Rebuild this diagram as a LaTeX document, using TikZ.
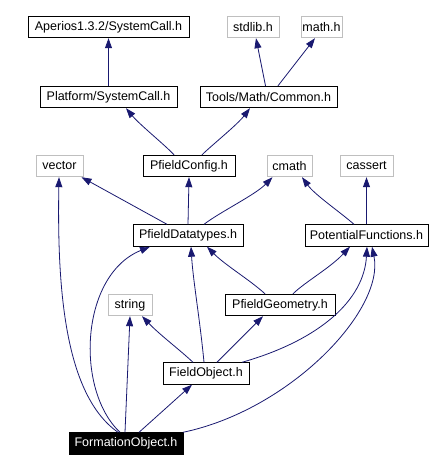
\documentclass[tikz,border=0pt]{standalone}
\usepackage{fontspec}
\setmainfont{Liberation Sans}
\usetikzlibrary{arrows.meta}
\definecolor{edgeblue}{HTML}{191970}
\definecolor{boxgray}{HTML}{BFBFBF}
\begin{document}
\begin{tikzpicture}[x=1pt,y=-1pt,
  hdr/.style={draw=black, line width=0.9pt, fill=white, inner sep=0pt, minimum height=21.5pt, font=\fontsize{12.5}{15}\selectfont, text=black},
  ext/.style={hdr, draw=boxgray},
  cur/.style={hdr, fill=black, text=white},
  dep/.style={draw=edgeblue, line width=0.8pt, -{Triangle[length=10pt,width=7pt]}}]
\useasboundingbox (0,0) rectangle (441,471);
% row 1
\node[hdr, minimum width=161pt] (aper) at (108.5,27) {Aperios1.3.2/SystemCall.h};
\node[ext, minimum width=52pt] (stdlib) at (253,27) {stdlib.h};
\node[ext, minimum width=41pt] (math) at (321.5,27) {math.h};
% row 2
\node[hdr, minimum width=137pt] (plat) at (108.5,97) {Platform/SystemCall.h};
\node[hdr, minimum width=137pt] (tools) at (268.5,97) {Tools/Math/Common.h};
% row 3
\node[ext, minimum width=47pt] (vector) at (59.5,166) {vector};
\node[hdr, minimum width=92pt] (pc) at (189,166) {PfieldConfig.h};
\node[ext, minimum width=45pt] (cmath) at (289.5,166) {cmath};
\node[ext, minimum width=53pt] (cassert) at (366.5,166) {cassert};
% row 4
\node[hdr, minimum width=110pt] (pd) at (188,235.5) {PfieldDatatypes.h};
\node[hdr, minimum width=123pt] (pf) at (366.5,235.5) {PotentialFunctions.h};
% row 5
\node[ext, minimum width=44pt] (string) at (130,305) {string};
\node[hdr, minimum width=110pt] (pg) at (280,305) {PfieldGeometry.h};
% row 6
\node[hdr, minimum width=86pt] (fo) at (206,373.5) {FieldObject.h};
% row 7
\node[cur, minimum width=114pt] (form) at (126,443.5) {FormationObject.h};
% edges
\draw[dep] (plat.north) -- (aper.south);
\draw[dep] ([xshift=-3pt]tools.north) -- ([xshift=3pt]stdlib.south);
\draw[dep] ([xshift=9.5pt]tools.north) -- ([xshift=-6.5pt]math.south);
\draw[dep] ([xshift=-15pt]pc.north) .. controls (165,145) and (140,125) .. ([xshift=17.5pt]plat.south);
\draw[dep] ([xshift=13pt]pc.north) .. controls (212,145) and (237,125) .. ([xshift=-18.5pt]tools.south);
\draw[dep] ([xshift=-21pt]pd.north) -- ([xshift=22pt]vector.south);
\draw[dep] (pd.north) -- (pc.south);
\draw[dep] ([xshift=16pt]pd.north) .. controls (220,212) and (255,195) .. ([xshift=-17pt]cmath.south);
\draw[dep] ([xshift=-12.5pt]pf.north) .. controls (340,212) and (315,195) .. ([xshift=12.5pt]cmath.south);
\draw[dep] (pf.north) -- (cassert.south);
\draw[dep] ([xshift=-15pt]pg.north) .. controls (250,280) and (225,265) .. ([xshift=19pt]pd.south);
\draw[dep] ([xshift=13pt]pg.north) .. controls (305,282) and (330,268) .. ([xshift=-16.5pt]pf.south);
\draw[dep] ([xshift=-13pt]fo.north) .. controls (180,350) and (160,335) .. ([xshift=12pt]string.south);
\draw[dep] ([xshift=-2pt]fo.north) .. controls (200,320) and (193,280) .. ([xshift=3pt]pd.south);
\draw[dep] ([xshift=11pt]fo.north) -- ([xshift=-17pt]pg.south);
\draw[dep] ([xshift=36pt]fo.north) .. controls (320,340) and (364,300) .. ([xshift=0.5pt]pf.south);
\draw[dep] ([xshift=-8pt]form.north) .. controls (65,395) and (57,290) .. ([xshift=-0.5pt]vector.south);
\draw[dep] ([xshift=-6pt]form.north) .. controls (75,390) and (80,275) .. ([xshift=-38pt]pd.south);
\draw[dep] ([xshift=-1pt]form.north) -- (string.south);
\draw[dep] ([xshift=13pt]form.north) .. controls (155,418) and (175,400) .. ([xshift=-14pt]fo.south);
\draw[dep] ([xshift=57pt]form.north) .. controls (290,410) and (385,310) .. ([xshift=5.5pt]pf.south);
\end{tikzpicture}
\end{document}
